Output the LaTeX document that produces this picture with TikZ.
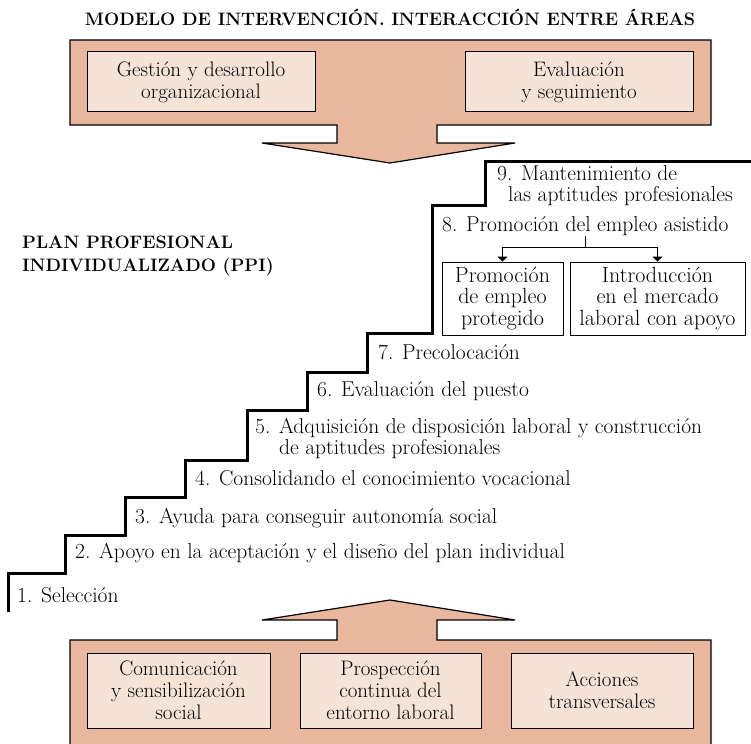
\documentclass[tikz,border=0pt]{standalone}
\usepackage{tikz}
\usetikzlibrary{arrows.meta}
\definecolor{panelfill}{HTML}{E8B79E}
\definecolor{boxfill}{HTML}{F6E3D8}

\begin{document}
\begin{tikzpicture}[x=1pt,y=-1pt,
    panel/.style={draw=black,line width=1.2pt,fill=panelfill},
    areabox/.style={draw=black,line width=1pt,fill=boxfill,align=center,inner sep=0pt,font=\fontsize{21}{22}\selectfont},
    optbox/.style={draw=black,line width=1pt,fill=white,align=center,inner sep=0pt,minimum height=73pt,font=\fontsize{22}{21.5}\selectfont},
    steptext/.style={anchor=west,align=left,inner sep=0pt,font=\fontsize{21.5}{21}\selectfont},
    headtext/.style={align=left,inner sep=0pt,font=\fontsize{18}{23}\selectfont\bfseries}]
    \useasboundingbox (0,0) rectangle (751,743);

    % title
    \node[inner sep=0pt,font=\fontsize{18}{20}\selectfont\bfseries] (title) at (390,17) {MODELO DE INTERVENCIÓN. INTERACCIÓN ENTRE ÁREAS};

    % upper panel with arrow down
    \draw[panel] (70,40) -- (711,40) -- (711,125) -- (437,125) -- (437,143) -- (515,143)
        -- (390,163) -- (262,143) -- (337,143) -- (337,125) -- (70,125) -- cycle;
    \node[areabox,minimum width=228pt,minimum height=60pt] (gestion) at (201,82) {Gestión y desarrollo\\organizacional};
    \node[areabox,minimum width=228pt,minimum height=60pt] (evaluacion) at (579,82) {Evaluación\\y seguimiento};

    % lower panel with arrow up
    \draw[panel] (70,746) -- (70,640) -- (337,640) -- (337,620) -- (262,620) -- (390,600)
        -- (515,620) -- (437,620) -- (437,640) -- (711,640) -- (711,746);
    \node[areabox,minimum width=183pt,minimum height=75pt] (comunicacion) at (178.5,690.5) {Comunicación\\y sensibilización\\social};
    \node[areabox,minimum width=181pt,minimum height=75pt] (prospeccion) at (390.5,690.5) {Prospección\\continua del\\entorno laboral};
    \node[areabox,minimum width=182pt,minimum height=75pt] (acciones) at (602,690.5) {Acciones\\transversales};

    % staircase
    \draw[line width=3pt,line join=miter] (8,612) -- (8,573) -- (65,573) -- (65,535) -- (125,535)
        -- (125,497) -- (185,497) -- (185,460) -- (247,460) -- (247,410) -- (307,410)
        -- (307,372) -- (367,372) -- (367,333) -- (432,333) -- (432,206) -- (485,206)
        -- (485,162) -- (751,162);

    \node[headtext,anchor=west] (ppi) at (22,256) {PLAN PROFESIONAL\\INDIVIDUALIZADO (PPI)};

    % steps
    \node[steptext] (step1) at (17,595) {1. Selección};
    \node[steptext] (step2) at (75,553) {2. Apoyo en la aceptación y el diseño del plan individual};
    \node[steptext] (step3) at (135,518) {3. Ayuda para conseguir autonomía social};
    \node[steptext] (step4) at (195,478) {4. Consolidando el conocimiento vocacional};
    \node[steptext] (step5) at (255,438) {5. Adquisición de disposición laboral y construcción\\\hphantom{5. }de aptitudes profesionales};
    \node[steptext] (step6) at (317,391) {6. Evaluación del puesto};
    \node[steptext] (step7) at (378,352) {7. Precolocación};
    \node[steptext] (step8) at (442,226) {8. Promoción del empleo asistido};
    \node[steptext] (step9) at (497,186) {9. Mantenimiento de\\\hspace{11pt}las aptitudes profesionales};

    % options of step 8
    \node[optbox,minimum width=121pt] (protegido) at (502.5,298.5) {Promoción\\de empleo\\protegido};
    \node[optbox,minimum width=175pt] (insercion) at (657.5,298.5) {Introducción\\en el mercado\\laboral con apoyo};
    \coordinate (fork) at (step8.south |- 0,247);
    \draw[line width=1pt] (step8.south) -- (fork);
    \draw[line width=1pt,-{Triangle[width=10pt,length=5pt]}] (fork) -| (protegido.north);
    \draw[line width=1pt,-{Triangle[width=10pt,length=5pt]}] (fork) -| (insercion.north);
\end{tikzpicture}
\end{document}
